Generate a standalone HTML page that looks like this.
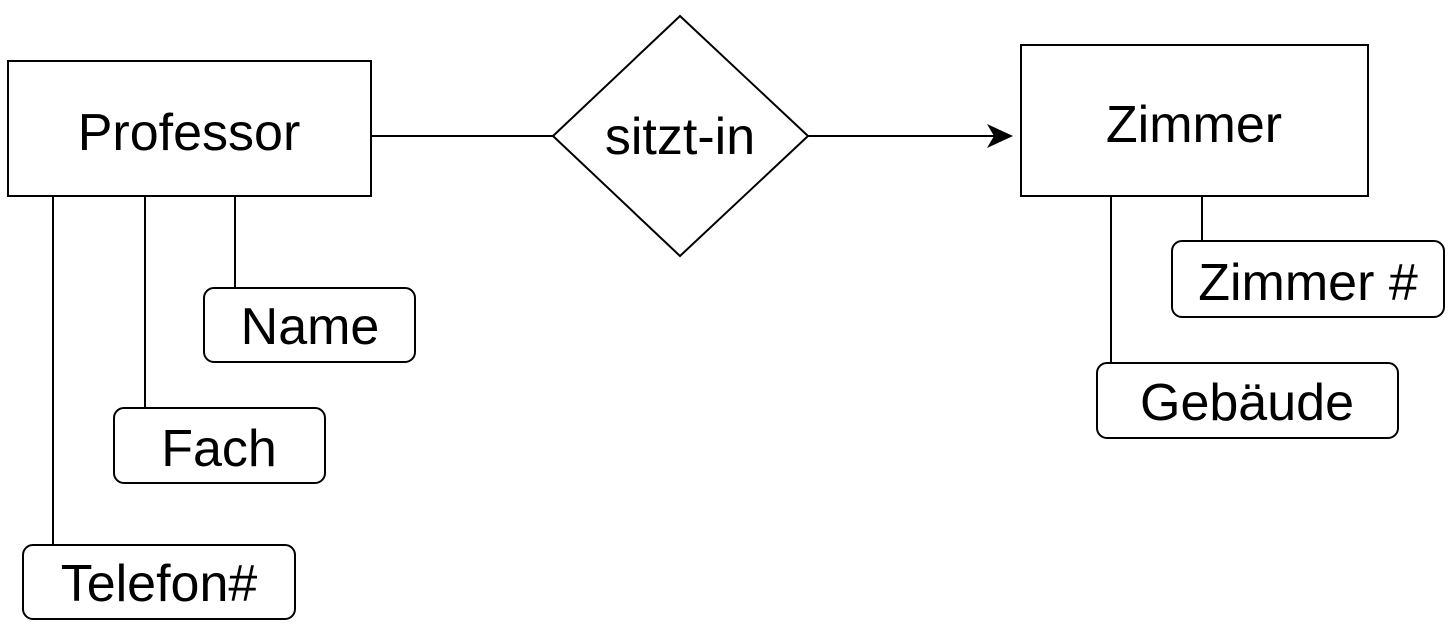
<!DOCTYPE html>
<html><head><meta charset="utf-8"><style>html,body{margin:0;padding:0;background:#fff}svg{display:block}</style></head>
<body>
<svg width="1453" height="626" viewBox="0 0 1453 626" xmlns="http://www.w3.org/2000/svg" font-family="Liberation Sans, Arial, sans-serif" font-size="52" text-anchor="middle">
<g fill="none" stroke="#000" stroke-width="2">
<rect x="8" y="61" width="363" height="135" fill="#fff"/>
<polygon points="680,16 808,136 680,256 553,136" fill="#fff"/>
<line x1="371" y1="136" x2="553" y2="136"/>
<line x1="808" y1="136" x2="1000" y2="136"/>
<rect x="1021" y="45" width="347" height="151" fill="#fff"/>
<line x1="53" y1="196" x2="53" y2="545"/>
<line x1="145" y1="196" x2="145" y2="408"/>
<line x1="235" y1="196" x2="235" y2="288"/>
<rect x="204" y="288" width="211" height="74" rx="10"/>
<rect x="114" y="408" width="211" height="75" rx="10"/>
<rect x="23" y="545" width="272" height="74" rx="10"/>
<line x1="1111" y1="196" x2="1111" y2="363"/>
<line x1="1202" y1="196" x2="1202" y2="241"/>
<rect x="1172" y="241" width="272" height="76" rx="10"/>
<rect x="1097" y="363" width="301" height="75" rx="10"/>
</g>
<polygon points="1013,136 987,124 994,136 987,148" fill="#000"/>
<text x="189" y="150">Professor</text>
<text x="680" y="154">sitzt-in</text>
<text x="1194" y="142">Zimmer</text>
<text x="310" y="344">Name</text>
<text x="219" y="466">Fach</text>
<text x="159" y="601">Telefon#</text>
<text x="1308" y="300">Zimmer #</text>
<text x="1247" y="420">Gebäude</text>
</svg>
</body></html>
